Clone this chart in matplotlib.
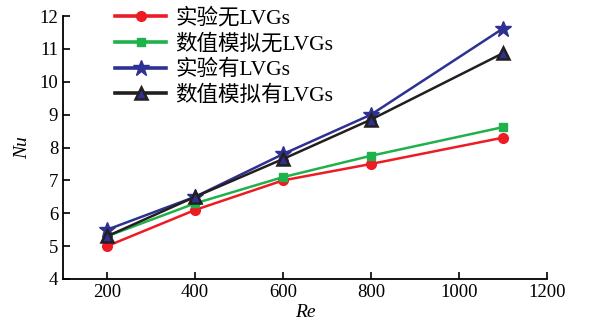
import matplotlib.pyplot as plt

plt.rcParams['font.family'] = ['Liberation Serif', 'Noto Sans CJK SC']
plt.rcParams['axes.unicode_minus'] = False

re_vals = [200, 400, 600, 800, 1100]
exp_no = [5.0, 6.1, 7.0, 7.5, 8.3]
sim_no = [5.3, 6.3, 7.1, 7.75, 8.62]
exp_lvg = [5.5, 6.5, 7.8, 9.0, 11.62]
sim_lvg = [5.3, 6.5, 7.65, 8.85, 10.87]
labels = ['实验无LVGs', '数值模拟无LVGs', '实验有LVGs', '数值模拟有LVGs']

fig = plt.figure(figsize=(5.95, 3.29), dpi=100)
ax = fig.add_axes([0.106, 0.152, 0.813, 0.799])

ax.plot(re_vals, exp_no, color='#ed1c24', lw=1.8, marker='o', ms=7, label=labels[0])
ax.plot(re_vals, sim_no, color='#1fb14a', lw=1.8, marker='s', ms=6, label=labels[1])
ax.plot(re_vals, exp_lvg, color='#2e3192', lw=1.8, marker='*', ms=12, label=labels[2])
ax.plot(re_vals, sim_lvg, color='#231f20', lw=1.8, marker='^', ms=9,
        mfc='#2e3192', mec='#231f20', mew=1.8, label=labels[3])

ax.set_xlim(100, 1200)
ax.set_ylim(4, 12)
ax.set_xticks([200, 400, 600, 800, 1000, 1200])
ax.set_yticks(range(4, 13))

ax.spines['top'].set_visible(False)
ax.spines['right'].set_visible(False)
ax.spines['left'].set_linewidth(1.3)
ax.spines['bottom'].set_linewidth(1.3)
ax.tick_params(direction='in', length=5, width=1.2, labelsize=13.5)

ax.set_xlabel('Re', fontsize=14, style='italic', labelpad=2)
ax.set_ylabel('Nu', fontsize=14, style='italic', labelpad=6)

leg = ax.legend(loc='upper left', bbox_to_anchor=(0.107, 1.03), frameon=False,
                fontsize=15.5, handlelength=2.4, handletextpad=0.4,
                labelspacing=0.24, borderaxespad=0, borderpad=0)
for line in leg.get_lines():
    line.set_linewidth(2.6)

fig.savefig('out.png', dpi=100)
